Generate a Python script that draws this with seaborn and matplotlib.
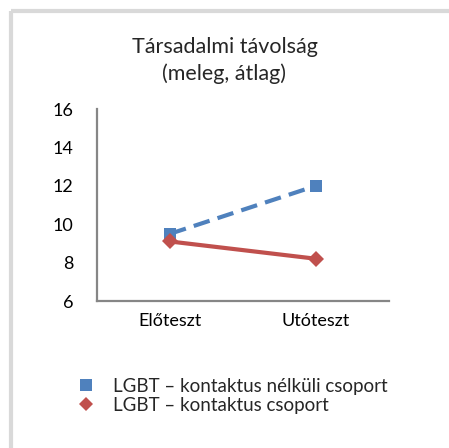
import matplotlib
matplotlib.use("Agg")
import matplotlib.pyplot as plt
from matplotlib.lines import Line2D
import pandas as pd
import seaborn as sns

# data
tesztek = ["Előteszt", "Utóteszt"]
nelkuli = [9.5, 12.0]   # LGBT – kontaktus nélküli csoport
kontakt = [9.1, 8.2]    # LGBT – kontaktus csoport
csoportok = ["LGBT – kontaktus nélküli csoport", "LGBT – kontaktus csoport"]
y_ticks = [6, 8, 10, 12, 14, 16]

df = pd.DataFrame({
    "teszt": tesztek * 2,
    "ertek": nelkuli + kontakt,
    "csoport": [csoportok[0]] * 2 + [csoportok[1]] * 2,
})

sns.set_style("white")
plt.rcParams["font.family"] = ["Lato", "DejaVu Sans"]

kek = "#4F81BD"
piros = "#C0504D"
szurke = "#868686"

fig = plt.figure(figsize=(4.49, 4.48), dpi=100)
ax = fig.add_axes([97 / 449, 1 - 301 / 448, 292 / 449, 192 / 448])

sns.lineplot(data=df, x="teszt", y="ertek", hue="csoport", style="csoport",
             palette={csoportok[0]: kek, csoportok[1]: piros},
             markers={csoportok[0]: "s", csoportok[1]: "D"},
             dashes={csoportok[0]: (4, 2), csoportok[1]: ""},
             linewidth=3, markersize=8, markeredgewidth=0,
             legend=False, ax=ax)

ax.set_xlim(-0.5, 1.5)
ax.set_ylim(6, 16)
ax.set_yticks(y_ticks)
ax.set_xlabel("")
ax.set_ylabel("")
ax.tick_params(axis="both", length=0, labelsize=13, colors="black")
ax.tick_params(axis="y", pad=17)
ax.tick_params(axis="x", pad=9)
sns.despine(ax=ax)
for s in ["left", "bottom"]:
    ax.spines[s].set_color(szurke)
    ax.spines[s].set_linewidth(1.6)

fig.text(0.5, 1 - 47 / 448, "Társadalmi távolság", ha="center", va="center", fontsize=15.5)
fig.text(0.5, 1 - 74 / 448, "(meleg, átlag)", ha="center", va="center", fontsize=15.5)

handles = [
    Line2D([], [], color=kek, marker="s", linestyle="none", markersize=8, markeredgewidth=0),
    Line2D([], [], color=piros, marker="D", linestyle="none", markersize=7, markeredgewidth=0),
]
fig.legend(handles, csoportok, loc="upper left", bbox_to_anchor=(75 / 449, 1 - 378 / 448),
           frameon=False, fontsize=13.5, handlelength=1.2, handletextpad=0.83,
           labelspacing=0.1, borderaxespad=0, borderpad=0)

# light grey frame of the chart area (only top and left edges are in view)
fig.add_artist(Line2D([10.5 / 449, 1.05], [1 - 11 / 448, 1 - 11 / 448],
                      transform=fig.transFigure, color="#D9D9D9", linewidth=3,
                      solid_capstyle="butt"))
fig.add_artist(Line2D([10.5 / 449, 10.5 / 449], [-0.05, 1 - 11 / 448],
                      transform=fig.transFigure, color="#D9D9D9", linewidth=3,
                      solid_capstyle="butt"))

fig.savefig("out.png", dpi=100)
plt.close(fig)
